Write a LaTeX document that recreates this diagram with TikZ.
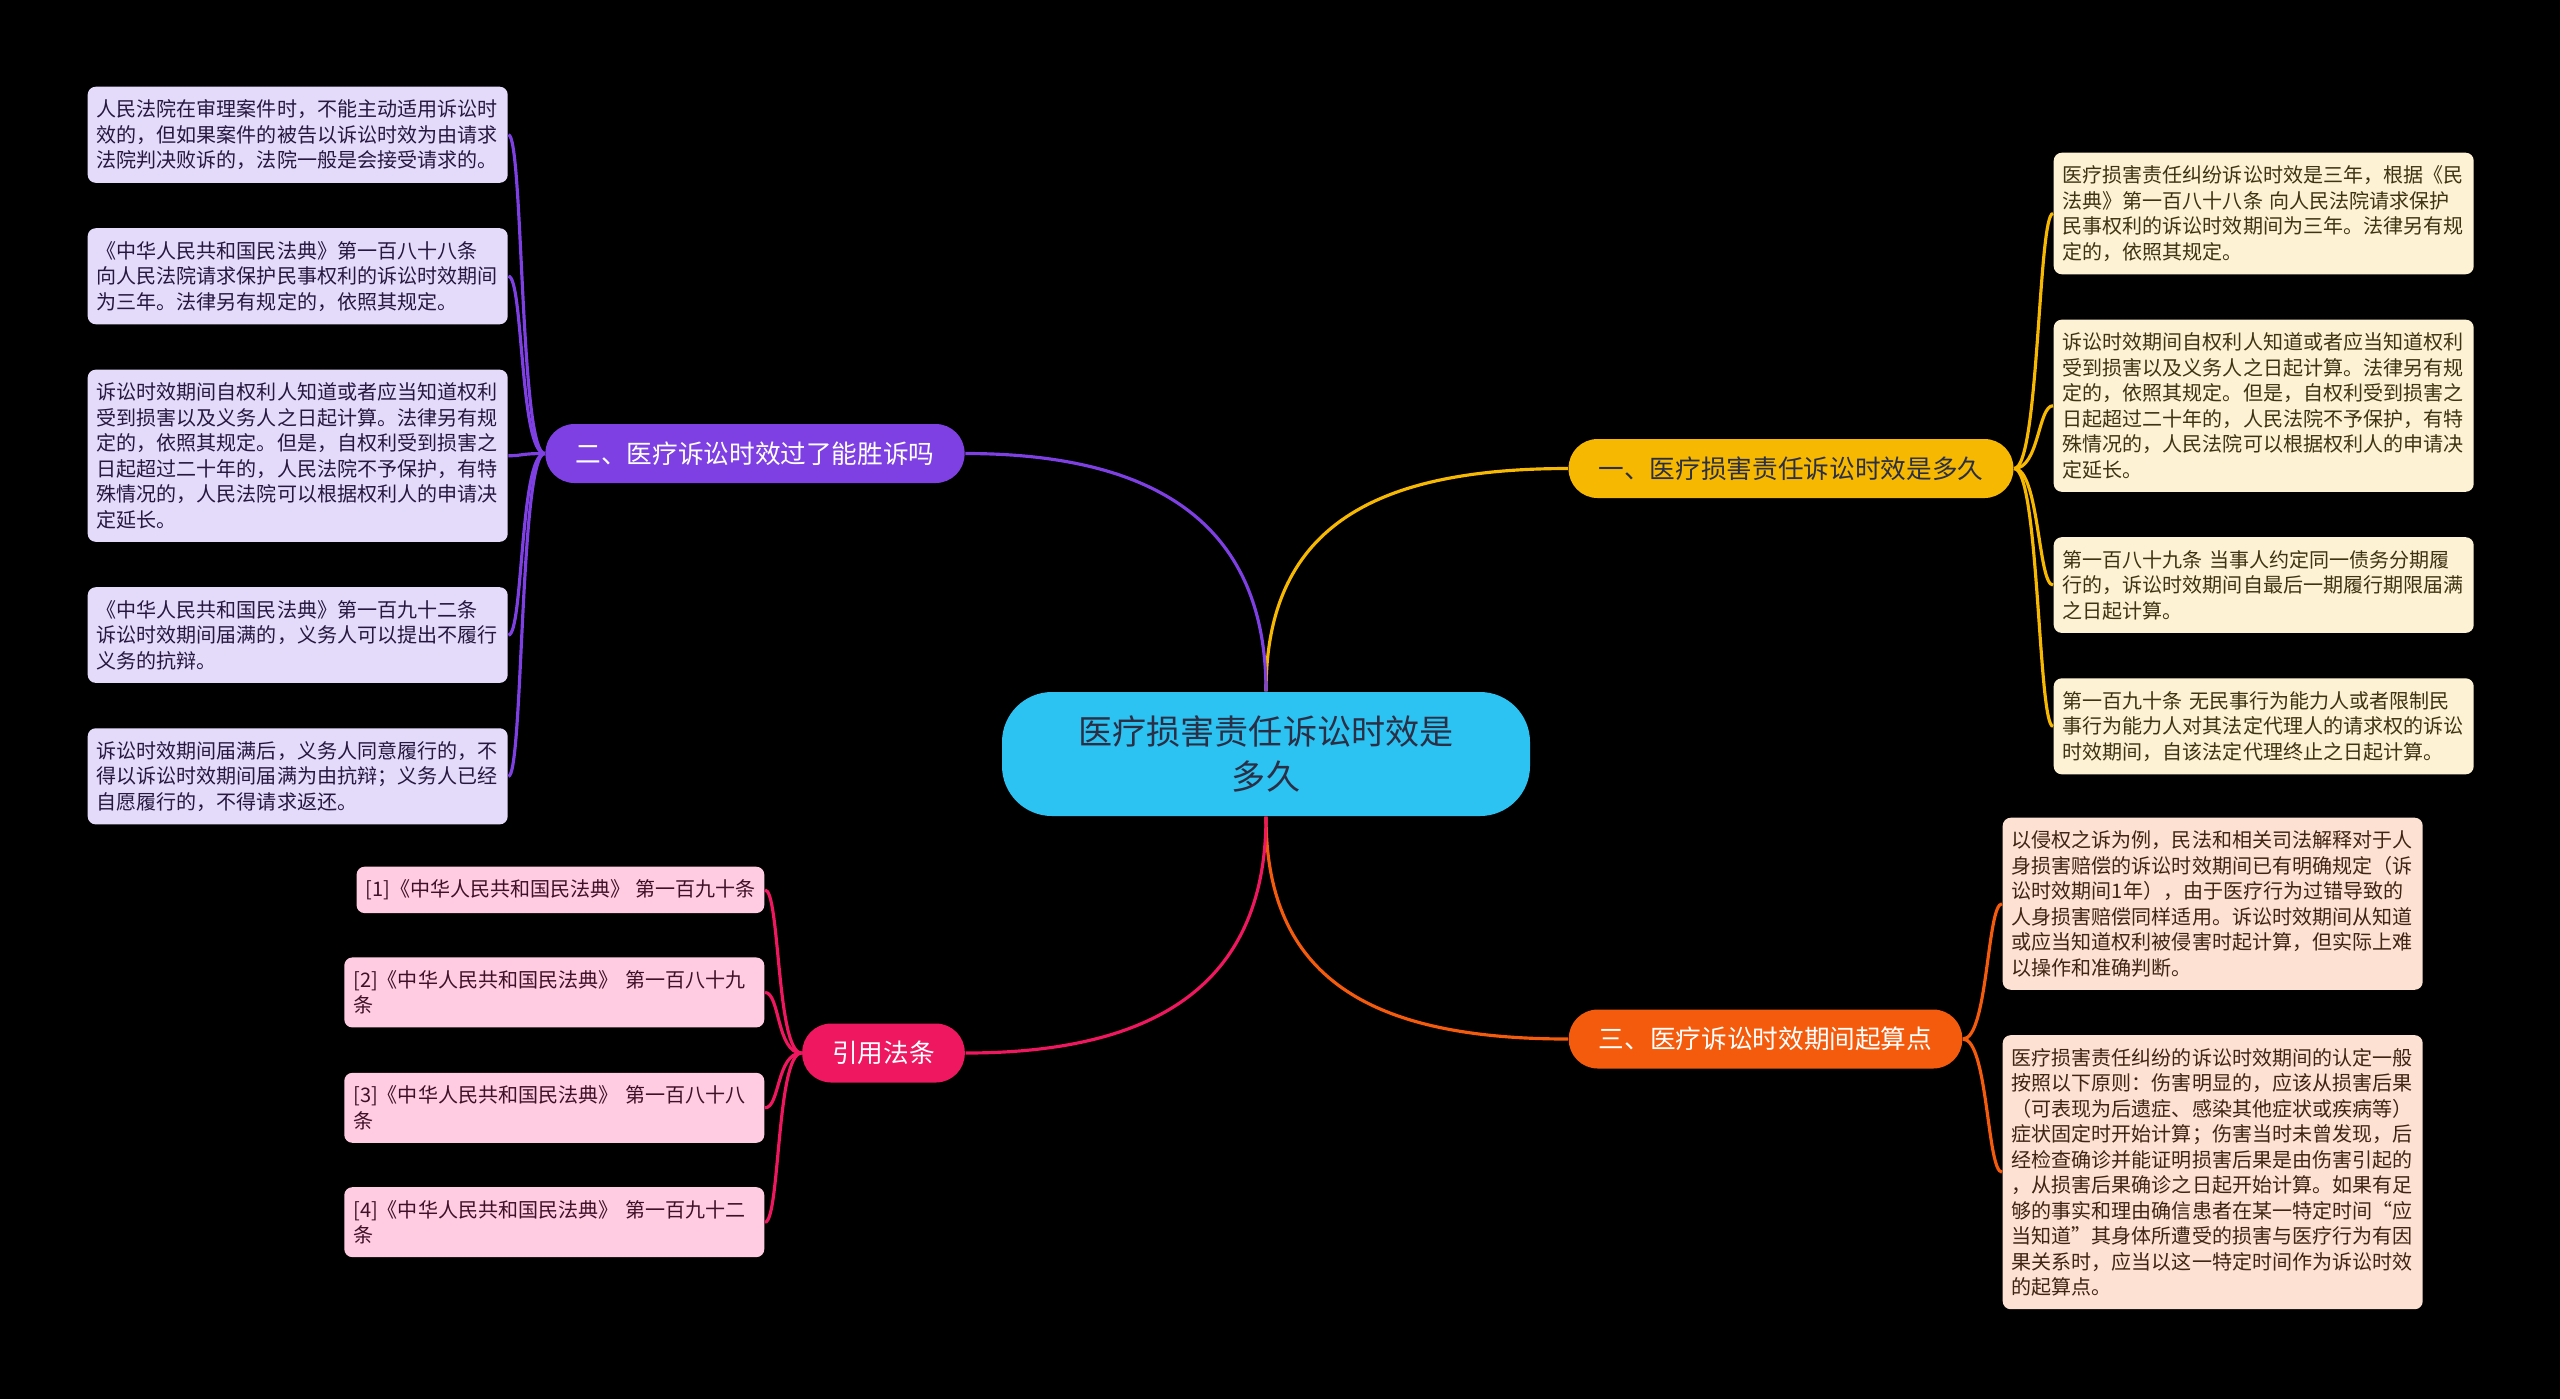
\documentclass[tikz,border=0pt]{standalone}
\usepackage{fontspec}
\newfontfamily\cjk{Noto Sans CJK SC}
\usetikzlibrary{positioning}

\definecolor{rootfill}{HTML}{2CC3F2}
\definecolor{rootink}{HTML}{2A2F45}
\definecolor{goldline}{HTML}{F6B800}
\definecolor{purpleline}{HTML}{7E40E2}
\definecolor{orangeline}{HTML}{F45B0C}
\definecolor{pinkline}{HTML}{EE1760}
\definecolor{lavfill}{HTML}{E4DBFA}
\definecolor{lavink}{HTML}{26183F}
\definecolor{creamfill}{HTML}{FDF2D3}
\definecolor{creamink}{HTML}{3E3312}
\definecolor{peachfill}{HTML}{FDE1D3}
\definecolor{peachink}{HTML}{3F2414}
\definecolor{rosefill}{HTML}{FFCCE2}
\definecolor{roseink}{HTML}{3F1128}

\begin{document}
\begin{tikzpicture}[
  root/.style={rectangle,rounded corners=0.5cm,fill=rootfill,text=rootink,
               minimum width=5.28cm,minimum height=1.24cm,align=center,
               font=\cjk\fontsize{9.7}{13}\selectfont},
  topic/.style={rectangle,rounded corners=0.29cm,minimum height=0.59cm,
                inner xsep=0.3cm,font=\cjk\fontsize{7.3}{9}\selectfont},
  leaf/.style={rectangle,rounded corners=0.08cm,text width=4.02cm,align=left,
               inner xsep=0.09cm,inner ysep=0.13cm,
               font=\cjk\fontsize{5.7}{7.25}\selectfont},
  link/.style={line width=0.9pt}]

\useasboundingbox (0,0) rectangle (25.6,-13.99);
\fill[black] (0,0) rectangle (25.6,-13.99);

% centre and main topics
\node[root] (root) at (12.66,-7.54) {医疗损害责任诉讼时效是\\多久};
\node[topic,fill=goldline,text=rootink] (b1) at (17.91,-4.685) {一、医疗损害责任诉讼时效是多久};
\node[topic,fill=purpleline,text=white] (b2) at (7.55,-4.535) {二、医疗诉讼时效过了能胜诉吗};
\node[topic,fill=orangeline,text=white] (b3) at (17.655,-10.39) {三、医疗诉讼时效期间起算点};
\node[topic,fill=pinkline,text=white] (b4) at (8.835,-10.53) {引用法条};

% left leaves
\node[leaf,fill=lavfill,text=lavink,anchor=north west] (l1) at (0.87,-0.86)
{人民法院在审理案件时，不能主动适用诉讼时\\效的，但如果案件的被告以诉讼时效为由请求\\法院判决败诉的，法院一般是会接受请求的。};
\node[leaf,fill=lavfill,text=lavink,below=0.44cm of l1] (l2)
{《中华人民共和国民法典》第一百八十八条\\向人民法院请求保护民事权利的诉讼时效期间\\为三年。法律另有规定的，依照其规定。};
\node[leaf,fill=lavfill,text=lavink,below=0.44cm of l2] (l3)
{诉讼时效期间自权利人知道或者应当知道权利\\受到损害以及义务人之日起计算。法律另有规\\定的，依照其规定。但是，自权利受到损害之\\日起超过二十年的，人民法院不予保护，有特\\殊情况的，人民法院可以根据权利人的申请决\\定延长。};
\node[leaf,fill=lavfill,text=lavink,below=0.44cm of l3] (l4)
{《中华人民共和国民法典》第一百九十二条\\诉讼时效期间届满的，义务人可以提出不履行\\义务的抗辩。};
\node[leaf,fill=lavfill,text=lavink,below=0.44cm of l4] (l5)
{诉讼时效期间届满后，义务人同意履行的，不\\得以诉讼时效期间届满为由抗辩；义务人已经\\自愿履行的，不得请求返还。};

% right leaves
\node[leaf,fill=creamfill,text=creamink,anchor=north west] (r1) at (20.53,-1.52)
{医疗损害责任纠纷诉讼时效是三年，根据《民\\法典》第一百八十八条 向人民法院请求保护\\民事权利的诉讼时效期间为三年。法律另有规\\定的，依照其规定。};
\node[leaf,fill=creamfill,text=creamink,below=0.44cm of r1] (r2)
{诉讼时效期间自权利人知道或者应当知道权利\\受到损害以及义务人之日起计算。法律另有规\\定的，依照其规定。但是，自权利受到损害之\\日起超过二十年的，人民法院不予保护，有特\\殊情况的，人民法院可以根据权利人的申请决\\定延长。};
\node[leaf,fill=creamfill,text=creamink,below=0.44cm of r2] (r3)
{第一百八十九条 当事人约定同一债务分期履\\行的，诉讼时效期间自最后一期履行期限届满\\之日起计算。};
\node[leaf,fill=creamfill,text=creamink,below=0.44cm of r3] (r4)
{第一百九十条 无民事行为能力人或者限制民\\事行为能力人对其法定代理人的请求权的诉讼\\时效期间，自该法定代理终止之日起计算。};

% start point leaves
\node[leaf,fill=peachfill,text=peachink,anchor=north west] (o1) at (20.02,-8.17)
{以侵权之诉为例，民法和相关司法解释对于人\\身损害赔偿的诉讼时效期间已有明确规定（诉\\讼时效期间1年），由于医疗行为过错导致的\\人身损害赔偿同样适用。诉讼时效期间从知道\\或应当知道权利被侵害时起计算，但实际上难\\以操作和准确判断。};
\node[leaf,fill=peachfill,text=peachink,below=0.44cm of o1] (o2)
{医疗损害责任纠纷的诉讼时效期间的认定一般\\按照以下原则：伤害明显的，应该从损害后果\\（可表现为后遗症、感染其他症状或疾病等）\\症状固定时开始计算；伤害当时未曾发现，后\\经检查确诊并能证明损害后果是由伤害引起的\\，从损害后果确诊之日起开始计算。如果有足\\够的事实和理由确信患者在某一特定时间“应\\当知道”其身体所遭受的损害与医疗行为有因\\果关系时，应当以这一特定时间作为诉讼时效\\的起算点。};

% cited articles
\node[leaf,fill=rosefill,text=roseink,text width={},anchor=north east] (p1) at (7.65,-8.66)
{[1]《中华人民共和国民法典》 第一百九十条};
\node[leaf,fill=rosefill,text=roseink,below=0.43cm of p1.south east,anchor=north east] (p2)
{[2]《中华人民共和国民法典》 第一百八十九\\条};
\node[leaf,fill=rosefill,text=roseink,below=0.44cm of p2] (p3)
{[3]《中华人民共和国民法典》 第一百八十八\\条};
\node[leaf,fill=rosefill,text=roseink,below=0.43cm of p3] (p4)
{[4]《中华人民共和国民法典》 第一百九十二\\条};

% connectors
\draw[link,goldline] (root.north) .. controls +(0,1.6) and +(-2.0,0) .. (b1.west);
\draw[link,purpleline] (root.north) .. controls +(0,1.6) and +(2.0,0) .. (b2.east);
\draw[link,orangeline] (root.south) .. controls +(0,-1.6) and +(-2.0,0) .. (b3.west);
\draw[link,pinkline] (root.south) .. controls +(0,-1.6) and +(2.0,0) .. (b4.east);

\foreach \n in {r1,r2,r3,r4}
  \draw[link,goldline] (b1.east) .. controls +(0.25,0) and +(-0.15,0) .. (\n.west);
\foreach \n in {l1,l2,l3,l4,l5}
  \draw[link,purpleline] (b2.west) .. controls +(-0.25,0) and +(0.15,0) .. (\n.east);
\foreach \n in {o1,o2}
  \draw[link,orangeline] (b3.east) .. controls +(0.25,0) and +(-0.15,0) .. (\n.west);
\foreach \n in {p1,p2,p3,p4}
  \draw[link,pinkline] (b4.west) .. controls +(-0.25,0) and +(0.15,0) .. (\n.east);
\end{tikzpicture}
\end{document}
